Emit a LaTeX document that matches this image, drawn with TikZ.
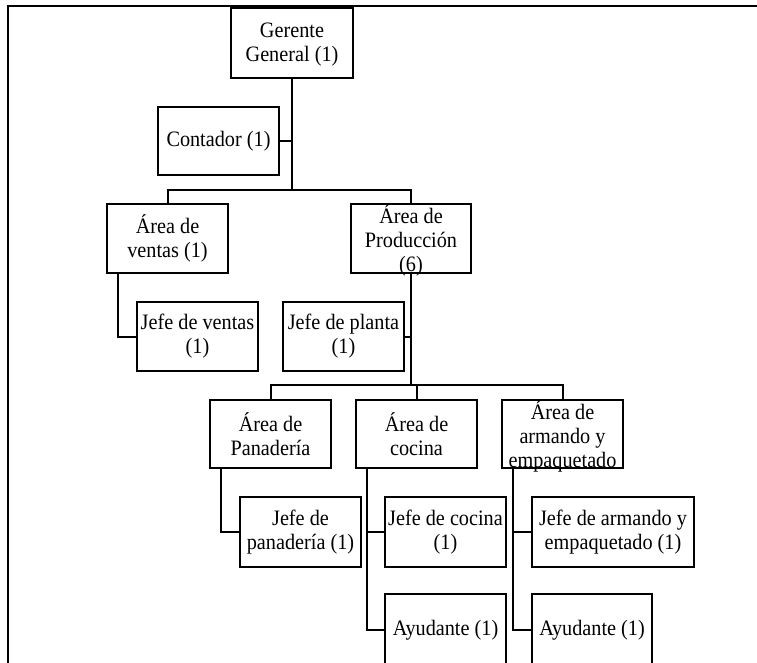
\documentclass[tikz,border=0pt]{standalone}
\usepackage{fontspec}
\setmainfont{Liberation Serif}[FakeStretch=0.92]
\begin{document}
\begin{tikzpicture}[x=1pt,y=-1pt,
  orgbox/.style 2 args={draw, line width=2pt, inner sep=0pt,
    minimum width=#1, minimum height=#2},
  lbl/.style={align=center, inner sep=0pt,
    font=\fontsize{22}{24}\selectfont},
  link/.style={line width=2pt, line join=miter},
  frame/.style={line width=1.4pt}]
\useasboundingbox (0,0) rectangle (757,663);

% outer frame (left and top sides)
\coordinate (fr-b) at (8,670);
\coordinate (fr-c) at (8,6);
\coordinate (fr-r) at (760,6);
\draw[frame] (fr-b) -- (fr-c) -- (fr-r);

% boxes
\node[orgbox={122pt}{70pt}] (gg) at (292,43) {};
\node[orgbox={121pt}{68pt}] (cont) at (218.5,141) {};
\node[orgbox={121pt}{69pt}] (ventas) at (167.5,238.5) {};
\node[orgbox={120pt}{69pt}] (prod) at (411,238.5) {};
\node[orgbox={121pt}{69pt}] (jventas) at (197.5,336.5) {};
\node[orgbox={121pt}{69pt}] (jplanta) at (343.5,336.5) {};
\node[orgbox={121pt}{68pt}] (pan) at (270.5,434) {};
\node[orgbox={121pt}{68pt}] (coc) at (416.5,434) {};
\node[orgbox={121pt}{68pt}] (arm) at (562.5,434) {};
\node[orgbox={121pt}{70pt}] (jpan) at (300.5,532) {};
\node[orgbox={121pt}{70pt}] (jcoc) at (445.5,532) {};
\node[orgbox={162pt}{70pt}] (jarm) at (613,532) {};
\node[orgbox={121pt}{72pt}] (ay1) at (445.5,630) {};
\node[orgbox={120pt}{72pt}] (ay2) at (592,630) {};

% labels
\node[lbl] (gg-t) at ([yshift=-2pt]gg.center) {Gerente\\General (1)};
\node[lbl] (cont-t) at (cont.center) {Contador (1)};
\node[lbl] (ventas-t) at (ventas.center) {Área de\\ventas (1)};
\node[lbl] (prod-t) at ([yshift=-2pt]prod.center) {Área de\\Producción\\(6)};
\node[lbl] (jventas-t) at (jventas.center) {Jefe de ventas\\(1)};
\node[lbl] (jplanta-t) at (jplanta.center) {Jefe de planta\\(1)};
\node[lbl] (pan-t) at (pan.center) {Área de\\Panadería};
\node[lbl] (coc-t) at (coc.center) {Área de\\cocina};
\node[lbl] (arm-t) at ([yshift=-2pt]arm.center) {Área de\\armando y\\empaquetado};
\node[lbl] (jpan-t) at (jpan.center) {Jefe de\\panadería (1)};
\node[lbl] (jcoc-t) at (jcoc.center) {Jefe de cocina\\(1)};
\node[lbl] (jarm-t) at (jarm.center) {Jefe de armando y\\empaquetado (1)};
\node[lbl] (ay1-t) at (ay1.center) {Ayudante (1)};
\node[lbl] (ay2-t) at (ay2.center) {Ayudante (1)};

% junctions and spines
\coordinate (j1) at (gg.south |- 0,190);
\coordinate (j2) at (prod.south |- 0,385);
\coordinate (sv) at ([xshift=12pt]ventas.south west);
\coordinate (sp) at ([xshift=12pt]pan.south west);
\coordinate (sc) at ([xshift=12pt]coc.south west);
\coordinate (sa) at ([xshift=12pt]arm.south west);

% connectors
\draw[link] (gg.south) -- (j1);
\draw[link] (cont.east) -- (cont.east -| j1);
\draw[link] (ventas.north) |- (j1) -| (prod.north);
\draw[link] (sv) |- (jventas.west);
\draw[link] (prod.south) -- (j2);
\draw[link] (jplanta.east) -- (jplanta.east -| j2);
\draw[link] (pan.north) |- (j2) -| (arm.north);
\draw[link] (coc.north) -- (coc.north |- j2);
\draw[link] (sp) |- (jpan.west);
\draw[link] (sc) |- (ay1.west);
\draw[link] (jcoc.west) -- (jcoc.west -| sc);
\draw[link] (sa) |- (ay2.west);
\draw[link] (jarm.west) -- (jarm.west -| sa);
\end{tikzpicture}
\end{document}
